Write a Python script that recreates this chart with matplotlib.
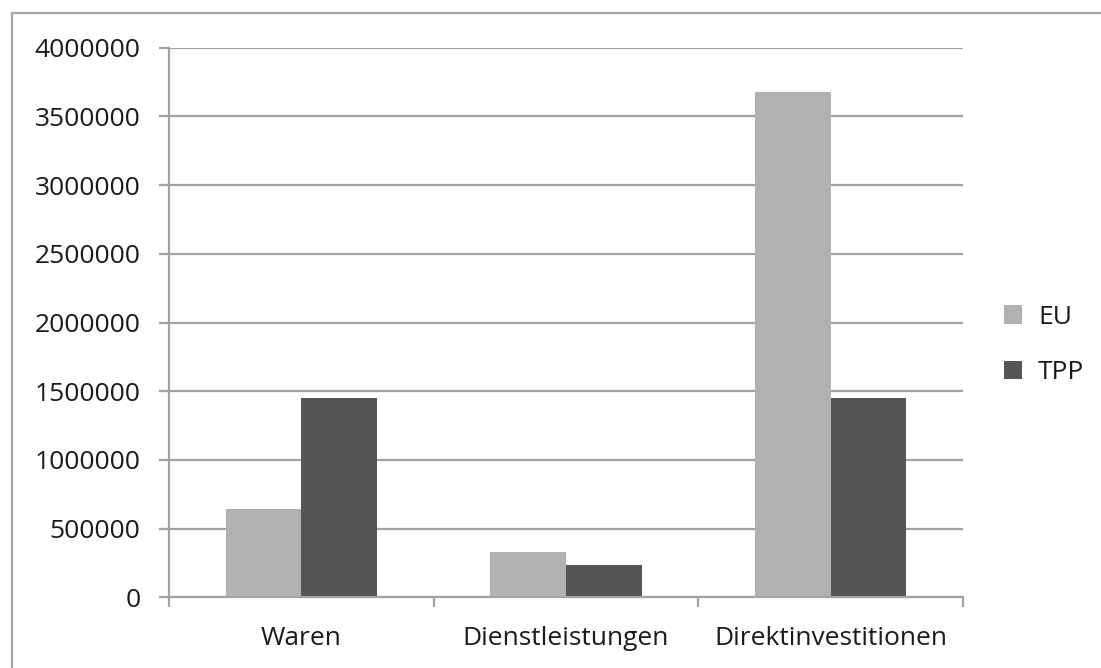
#!/usr/bin/env python3
import matplotlib
matplotlib.use("Agg")
import matplotlib.pyplot as plt
from matplotlib.patches import Rectangle, Patch
import numpy as np

categories = ["Waren", "Dienstleistungen", "Direktinvestitionen"]
series_names = ["EU", "TPP"]
eu_values = [640000, 330000, 3675000]
tpp_values = [1450000, 235000, 1450000]
y_ticks = [0, 500000, 1000000, 1500000, 2000000, 2500000, 3000000, 3500000, 4000000]

EU_COLOR = "#b1b1b1"
TPP_COLOR = "#555555"
LINE_COLOR = "#a3a3a3"
TEXT_COLOR = "#1a1a1a"
FONT_SIZE = 19

plt.rcParams["font.family"] = ["Open Sans", "DejaVu Sans"]

fig = plt.figure(figsize=(11.01, 6.68), dpi=100)
ax = fig.add_axes([169 / 1101, 1 - 597.3 / 668, (963 - 169) / 1101, (597.3 - 47.7) / 668])

# outer frame of the chart object
fig.patches.append(Rectangle((12 / 1101, -0.1), 1.2, 1 - 13 / 668 + 0.1,
                             transform=fig.transFigure, fill=False,
                             edgecolor=LINE_COLOR, linewidth=1.6))

x = np.arange(len(categories))
width = 0.286
ax.bar(x - width / 2, eu_values, width, color=EU_COLOR, zorder=3)
ax.bar(x + width / 2, tpp_values, width, color=TPP_COLOR, zorder=3)

ax.set_xlim(-0.5, len(categories) - 0.5)
ax.set_ylim(0, 4000000)
ax.set_yticks(y_ticks)
ax.set_yticklabels([str(v) for v in y_ticks])
ax.yaxis.grid(True, color=LINE_COLOR, linewidth=1.6, zorder=0)
ax.set_axisbelow(True)

ax.set_xticks(x)
ax.set_xticklabels(categories)
ax.set_xticks(np.arange(-0.5, len(categories)), minor=True)
ax.tick_params(axis="x", which="major", length=0, pad=21, labelsize=FONT_SIZE, labelcolor=TEXT_COLOR)
ax.tick_params(axis="x", which="minor", length=7, width=1.6, color=LINE_COLOR)
ax.tick_params(axis="y", length=7, width=1.6, color=LINE_COLOR, pad=13.5,
               labelsize=FONT_SIZE, labelcolor=TEXT_COLOR)

for side in ["top", "right"]:
    ax.spines[side].set_visible(False)
for side in ["left", "bottom"]:
    ax.spines[side].set_color(LINE_COLOR)
    ax.spines[side].set_linewidth(1.6)
ax.spines["bottom"].set_zorder(4)

handles = [Patch(facecolor=EU_COLOR, label=series_names[0]),
           Patch(facecolor=TPP_COLOR, label=series_names[1])]
fig.legend(handles=handles, loc="center left", bbox_to_anchor=(980 / 1101, 1 - 345 / 668),
           frameon=False, fontsize=FONT_SIZE, handlelength=0.7, handleheight=0.7,
           handletextpad=0.6, labelspacing=1.15, labelcolor=TEXT_COLOR)

fig.savefig("out.png", dpi=100)
